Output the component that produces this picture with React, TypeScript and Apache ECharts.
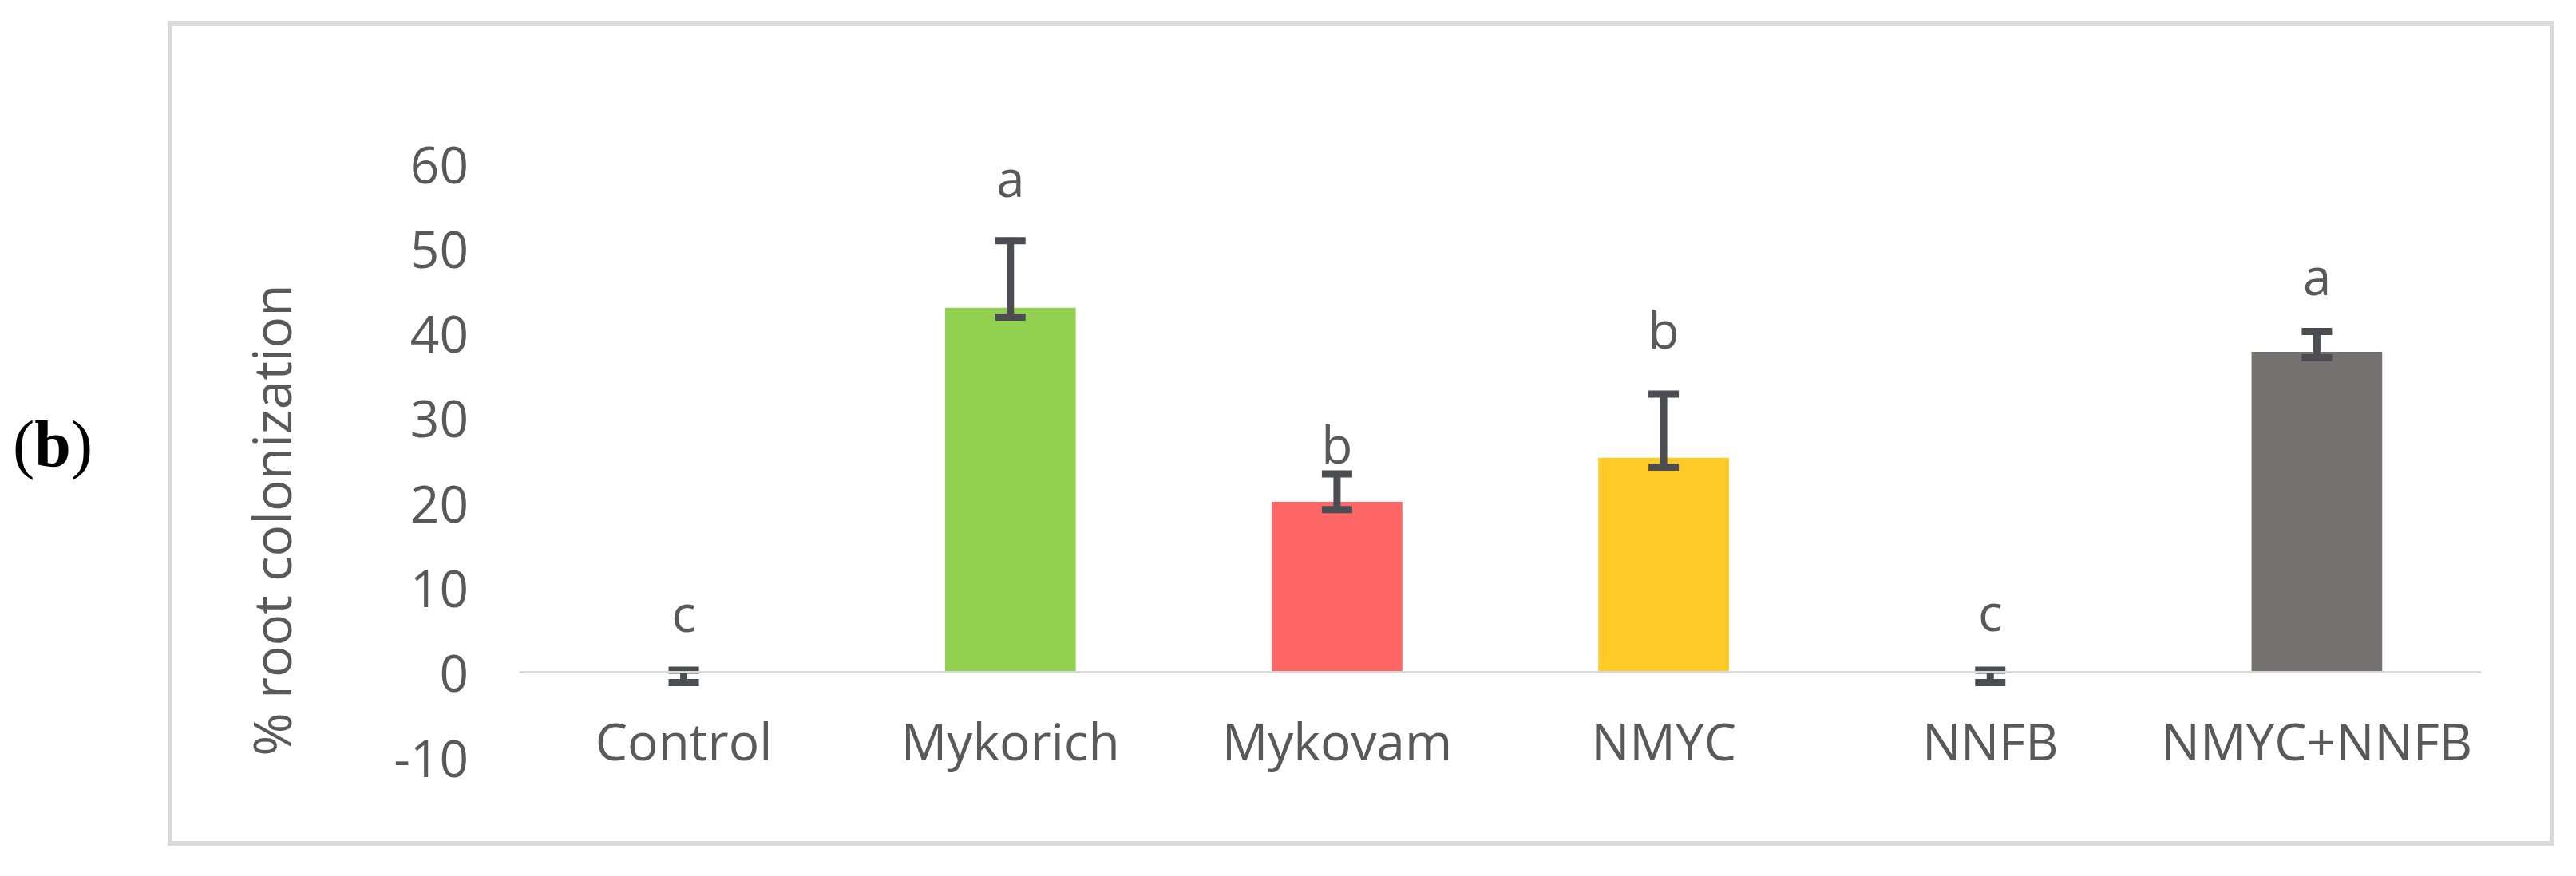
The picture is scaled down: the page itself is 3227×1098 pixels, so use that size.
import React, { useEffect, useRef } from "react";
import * as echarts from "echarts";

const categories = ["Control", "Mykorich", "Mykovam", "NMYC", "NNFB", "NMYC+NNFB"];
const means = [0, 43.0, 20.1, 25.3, 0, 37.8];
const errHigh = [0.25, 50.9, 23.4, 32.8, 0.25, 40.2];
const errLow = [-1.2, 41.9, 19.2, 24.2, -1.2, 37.1];
const letters = ["c", "a", "b", "b", "c", "a"];
const letterBaseline = [4.7, 56.0, 24.6, 38.1, 4.8, 44.4];
const barColors = ["#92D050", "#92D050", "#FF6666", "#FFCA28", "#757171", "#757171"];
const yTicks = { min: -10, max: 60, interval: 10 };

const FONT = "'Open Sans', 'DejaVu Sans', sans-serif";
const TEXT_COLOR = "#595959";
const ERR_COLOR = "#4B4D52";

export default function App() {
  const ref = useRef<HTMLDivElement>(null);

  useEffect(() => {
    if (!ref.current) return;
    const chart = echarts.init(ref.current, null, { renderer: "svg" });
    const option: any = {
      animation: false,
      backgroundColor: "#ffffff",
      grid: { left: 652, right: 120, top: 205, bottom: 149, containLabel: false },
      xAxis: {
        type: "category",
        data: categories,
        axisLine: { show: true, onZero: true, lineStyle: { color: "#D9D9D9", width: 3 } },
        axisTick: { show: false },
        axisLabel: { color: TEXT_COLOR, fontSize: 64, fontFamily: FONT, margin: -53, interval: 0 },
        z: 5,
      },
      yAxis: {
        type: "value",
        min: yTicks.min,
        max: yTicks.max,
        interval: yTicks.interval,
        axisLine: { show: false },
        axisTick: { show: false },
        splitLine: { show: false },
        axisLabel: { color: TEXT_COLOR, fontSize: 64, fontFamily: FONT, margin: 65 },
      },
      graphic: [
        {
          type: "rect",
          shape: { x: 213, y: 29, width: 2984, height: 1028 },
          style: { fill: "none", stroke: "#D9D9D9", lineWidth: 6 },
          silent: true,
        },
        {
          type: "text",
          x: 339,
          y: 652,
          rotation: Math.PI / 2,
          style: {
            text: "% root colonization",
            fill: TEXT_COLOR,
            font: `66px ${FONT}`,
            align: "center",
            verticalAlign: "middle",
          },
        },
        {
          type: "text",
          x: 66,
          y: 556,
          style: {
            text: "{p|(}{b|b}{p|)}",
            align: "center",
            verticalAlign: "middle",
            rich: {
              p: {
                fill: "#000000",
                fontSize: 82,
                fontFamily: "'Liberation Serif', 'DejaVu Serif', serif",
                fontWeight: "normal",
              },
              b: {
                fill: "#000000",
                fontSize: 82,
                fontFamily: "'Liberation Serif', 'DejaVu Serif', serif",
                fontWeight: "bold",
              },
            },
          },
        },
      ],
      series: [
        {
          type: "bar",
          data: means.map((v, i) => ({ value: v, itemStyle: { color: barColors[i] } })),
          barCategoryGap: "60%",
          z: 2,
        },
        {
          type: "custom",
          data: categories.map((_, i) => [i, errHigh[i], errLow[i]]),
          encode: { x: 0, y: [1, 2] },
          z: 3,
          renderItem: (params: any, api: any) => {
            const i = api.value(0);
            const top = api.coord([i, api.value(1)]);
            const bot = api.coord([i, api.value(2)]);
            const hw = 19;
            const style = { stroke: ERR_COLOR, lineWidth: 9 };
            return {
              type: "group",
              children: [
                { type: "line", shape: { x1: top[0], y1: top[1] - 4, x2: bot[0], y2: bot[1] + 4 }, style },
                { type: "line", shape: { x1: top[0] - hw, y1: top[1], x2: top[0] + hw, y2: top[1] }, style },
                { type: "line", shape: { x1: bot[0] - hw, y1: bot[1], x2: bot[0] + hw, y2: bot[1] }, style },
              ],
            };
          },
        },
        {
          type: "custom",
          data: categories.map((_, i) => [i, letterBaseline[i]]),
          encode: { x: 0, y: 1 },
          z: 4,
          renderItem: (params: any, api: any) => {
            const idx = params.dataIndex;
            const p = api.coord([api.value(0), api.value(1)]);
            return {
              type: "text",
              x: p[0],
              y: p[1] - 25,
              style: {
                text: letters[idx],
                fill: TEXT_COLOR,
                font: `64px ${FONT}`,
                align: "center",
                verticalAlign: "middle",
              },
            };
          },
        },
      ],
    };
    chart.setOption(option);
    return () => chart.dispose();
  }, []);

  return (
    <div
      ref={ref}
      style={{ position: "absolute", left: 0, top: 0, width: 3227, height: 1098, background: "#fff" }}
    />
  );
}
